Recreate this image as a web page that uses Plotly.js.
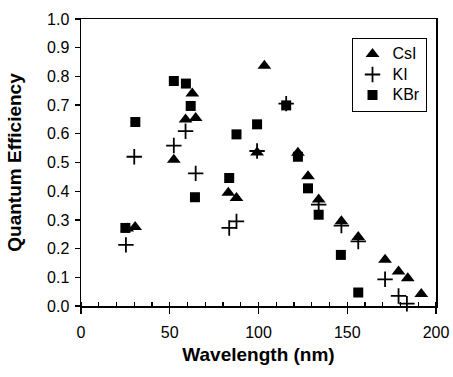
<!DOCTYPE html>
<html>
<head>
<meta charset="utf-8">
<script src="https://cdn.plot.ly/plotly-3.0.1.min.js"></script>
<style>html,body{margin:0;padding:0;background:#fff;}#chart{width:453px;height:377px;}</style>
</head>
<body>
<div id="chart"></div>
<script>
// CsI (triangles)
const csiX = [26, 30.5, 52.3, 58.9, 62.7, 64.6, 83, 87.6, 99.2, 103.3, 122.2, 127.9, 133.9, 146.7, 156.2, 171.3, 178.9, 184.1, 191.7];
const csiY = [0.27, 0.275, 0.51, 0.65, 0.74, 0.655, 0.395, 0.376, 0.535, 0.837, 0.534, 0.452, 0.371, 0.295, 0.24, 0.161, 0.12, 0.097, 0.042];
// KI (plus)
const kiX = [25.3, 30, 52.3, 58.9, 64.6, 83.5, 87.6, 99.2, 115.6, 133.9, 146.7, 156.2, 171.3, 178.9, 183.6];
const kiY = [0.213, 0.52, 0.559, 0.609, 0.462, 0.272, 0.295, 0.54, 0.705, 0.353, 0.28, 0.225, 0.093, 0.035, 0.008];
// KBr (squares)
const kbrX = [25, 30.6, 52.3, 59.1, 61.8, 64.2, 83.5, 87.6, 99.2, 115.6, 122.2, 127.9, 133.9, 146.4, 156.2];
const kbrY = [0.272, 0.641, 0.784, 0.775, 0.697, 0.379, 0.446, 0.598, 0.633, 0.699, 0.52, 0.41, 0.318, 0.178, 0.047];

const seriesNames = ['CsI', 'KI', 'KBr'];
const xTicks = [0, 50, 100, 150, 200];
const yTicks = [0, 0.1, 0.2, 0.3, 0.4, 0.5, 0.6, 0.7, 0.8, 0.9, 1.0];

const FONT = 'Liberation Sans, Arial, sans-serif';
const lg = n => '<span style="font-size:16px">' + n + '</span>';

const traces = [
  {x: csiX, y: csiY, name: lg(seriesNames[0]), type: 'scatter', mode: 'markers', cliponaxis: false,
   marker: {symbol: 'triangle-up', size: 12, color: '#000'}},
  {x: kiX, y: kiY, name: lg(seriesNames[1]), type: 'scatter', mode: 'markers', cliponaxis: false,
   marker: {symbol: 'cross-thin', size: 11, color: '#000', line: {color: '#000', width: 1.8}}},
  {x: kbrX, y: kbrY, name: lg(seriesNames[2]), type: 'scatter', mode: 'markers', cliponaxis: false,
   marker: {symbol: 'square', size: 10, color: '#000'}}
];

const layout = {
  width: 453, height: 377,
  margin: {l: 81, r: 17, t: 19, b: 71},
  paper_bgcolor: '#fff', plot_bgcolor: '#fff',
  font: {family: FONT, color: '#000', size: 15},
  showlegend: true,
  legend: {x: 0.762, y: 0.935, xanchor: 'left', yanchor: 'top',
    bordercolor: '#000', borderwidth: 1, bgcolor: '#fff',
    font: {family: FONT, size: 13.5, color: '#000'}, itemwidth: 30, tracegroupgap: 0},
  xaxis: {
    range: [0, 200], tickvals: xTicks, ticktext: xTicks.map(String),
    ticks: 'outside', ticklen: 6, tickwidth: 1.3, tickcolor: '#000', ticklabelstandoff: 5,
    minor: {dtick: 10, ticks: 'inside', ticklen: 4, tickwidth: 1.2, tickcolor: '#000', showgrid: false},
    showline: true, linecolor: '#000', linewidth: 1.5, mirror: true,
    showgrid: false, zeroline: false,
    tickfont: {family: FONT, size: 16, color: '#000'},
    title: {text: '<b>Wavelength (nm)</b>', font: {family: FONT, size: 19, color: '#000'}, standoff: 8}
  },
  yaxis: {
    range: [0, 1], tickvals: yTicks, ticktext: yTicks.map(v => v.toFixed(1)),
    ticks: 'outside', ticklen: 5, tickwidth: 1.3, tickcolor: '#000', ticklabelstandoff: 2,
    showline: true, linecolor: '#000', linewidth: 1.5, mirror: true,
    showgrid: false, zeroline: false,
    tickfont: {family: FONT, size: 16, color: '#000'},
    title: {text: '<b>Quantum Efficiency</b>', font: {family: FONT, size: 19, color: '#000'}, standoff: 20}
  }
};

Plotly.newPlot('chart', traces, layout, {displayModeBar: false, staticPlot: true});
</script>
</body>
</html>
